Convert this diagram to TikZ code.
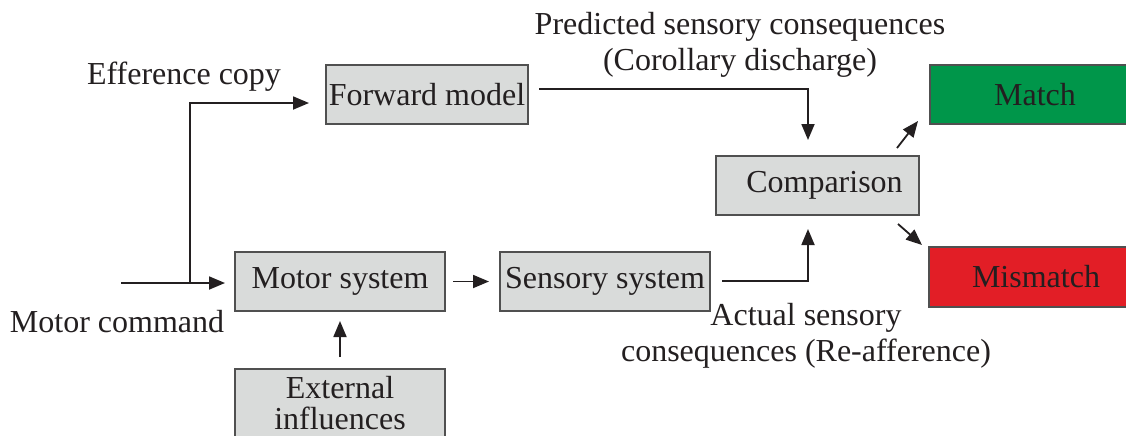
\documentclass[tikz,border=0pt]{standalone}
\usepackage{fontspec}
\setmainfont{Liberation Serif}
\usetikzlibrary{arrows.meta}
\definecolor{boxfill}{HTML}{D9DBDA}
\definecolor{boxline}{HTML}{505050}
\definecolor{txt}{HTML}{231F20}
\definecolor{matchgreen}{HTML}{00964A}
\definecolor{mismatchred}{HTML}{E21E26}
\begin{document}
\begin{tikzpicture}[x=0.5pt,y=-0.5pt,
  font=\fontsize{16}{18}\selectfont, text=txt,
  blk/.style={draw=boxline, line width=1pt, fill=boxfill, inner sep=0pt, minimum height=29.5pt},
  arr/.style={draw=txt, line width=0.9pt, -{Triangle[length=8pt,width=6.5pt]}},
  lbl/.style={inner sep=0pt, align=center}]
\useasboundingbox (0,0) rectangle (1126,435);
\clip (0,0) rectangle (1126,435);
\fill[white] (0,0) rectangle (1126,435);

% boxes
\node[blk, minimum width=101pt] (fm) at (427,94.5) {Forward model};
\node[blk, minimum width=105pt] (ms) at (340,281.5) {Motor system};
\node[blk, minimum width=105pt] (ss) at (605,281.5) {Sensory system};
\node[blk, minimum width=105pt, minimum height=0pt, inner ysep=3.6pt, anchor=north, align=center,
      font=\fontsize{16}{15.5}\selectfont] (ext) at (340,368) {External\\influences};
\node[blk, minimum width=101.5pt] (cmp) at (817.5,185.5) {\hspace{7pt}Comparison};
\node[blk, fill=matchgreen, minimum width=105pt] (match) at (1035,94.5) {Match};
\node[blk, fill=mismatchred, minimum width=107pt, minimum height=30pt] (mis) at (1036,277) {Mismatch};

% labels
\node[lbl] (effl) at (184,77) {Efference copy};
\node[lbl] (mcl) at (117,322) {Motor command};
\node[lbl] (pred) at (740,45) {Predicted sensory consequences\\(Corollary discharge)};
\node[lbl] (act) at (806,336) {Actual sensory\\consequences (Re-afference)};

% connectors
\coordinate (mc) at (121,283);
\coordinate (split) at (190,283);
\draw[arr, shorten >=4.5pt] (mc) -- (ms.west |- mc);
\draw[arr, shorten >=8pt] (split) |- ([yshift=-4.25pt]fm.west);
\draw[arr, shorten <=3.5pt, shorten >=5pt] (ms.east) -- (ss.west);
\draw[arr, shorten <=5.5pt, shorten >=4.5pt] (ext.north) -- (ms.south);
\draw[arr, shorten >=7.5pt] ([xshift=5pt,yshift=2.75pt]fm.east) -| ([xshift=-4.75pt]cmp.north);
\draw[arr, shorten >=6.5pt] ([xshift=5.5pt,yshift=0.25pt]ss.east) -| ([xshift=-4.75pt]cmp.south);
\draw[arr] ([xshift=-11.5pt,yshift=3.5pt]cmp.north east) -- ([xshift=-5.5pt,yshift=2pt]match.south west);
\draw[arr] ([xshift=-11pt,yshift=-4pt]cmp.south east) -- ([xshift=-3pt,yshift=0.5pt]mis.north west);
\end{tikzpicture}
\end{document}
